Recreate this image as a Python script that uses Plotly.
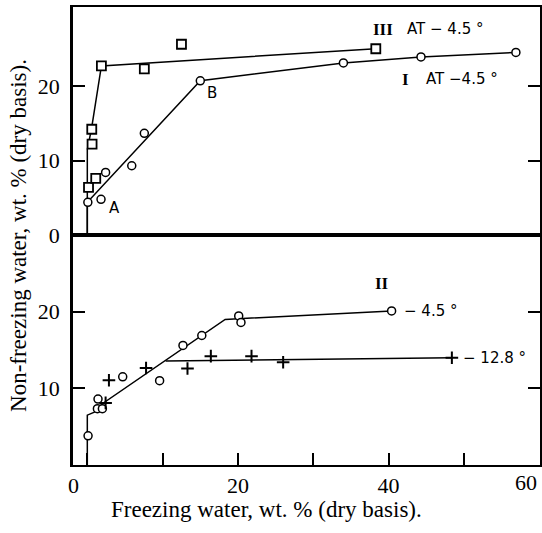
import plotly.graph_objects as go
from plotly.subplots import make_subplots

# --- upper panel: curves I and III (at -4.5 deg) ---
i_x = [0.07, 1.82, 2.43, 5.9, 7.57, 15.0, 34.0, 44.3, 56.9]
i_y = [4.4, 4.8, 8.4, 9.3, 13.65, 20.7, 23.1, 23.9, 24.5]
i_line_x = [0, 0, 15.0, 34.0, 44.3, 56.9]
i_line_y = [0, 4.4, 20.7, 23.1, 23.9, 24.5]

iii_x = [0.16, 1.12, 0.63, 0.59, 1.87, 7.57, 12.5, 38.3]
iii_y = [6.4, 7.6, 12.2, 14.2, 22.7, 22.3, 25.6, 25.0]
iii_line_x = [0, 0, 0.55, 1.87, 38.3]
iii_line_y = [0, 11.5, 14.2, 22.7, 25.0]

# --- lower panel: curve II at -4.5 and -12.8 deg ---
ii45_x = [0.1, 1.42, 1.34, 2.0, 4.7, 9.6, 12.7, 15.2, 20.1, 20.4, 40.4]
ii45_y = [3.8, 8.6, 7.35, 7.35, 11.5, 11.0, 15.6, 16.9, 19.45, 18.6, 20.1]
ii45_line_x = [0, 0, 1.4, 2.0, 18.3, 40.4]
ii45_line_y = [0, 6.5, 7.1, 8.0, 19.0, 20.1]

ii128_x = [2.43, 2.87, 7.8, 13.3, 16.4, 21.8, 26.0, 48.4]
ii128_y = [8.1, 11.05, 12.65, 12.6, 14.2, 14.2, 13.4, 14.0]
ii128_line_x = [10.4, 48.4]
ii128_line_y = [13.57, 14.0]

x_ticks = [0, 10, 20, 30, 40, 50]
# in the scan the "0" label sits a little left of its tick position
nb = "\u00a0"
x_ticktext = ["0" + nb * 5, "", "20", "", "40", ""]
x_last = 60  # labelled at the right frame

fig = make_subplots(rows=2, cols=1, shared_xaxes=True, vertical_spacing=0,
                    row_heights=[0.498, 0.502])

line_style = dict(color="black", width=1.5)
circle = dict(symbol="circle", size=8, color="white",
              line=dict(color="black", width=1.5))
square = dict(symbol="square", size=9, color="white",
              line=dict(color="black", width=1.8))
cross = dict(symbol="cross-thin", size=9, line=dict(color="black", width=2))

fig.add_trace(go.Scatter(x=i_line_x, y=i_line_y, mode="lines", line=line_style), 1, 1)
fig.add_trace(go.Scatter(x=iii_line_x, y=iii_line_y, mode="lines", line=line_style), 1, 1)
fig.add_trace(go.Scatter(x=i_x, y=i_y, mode="markers", marker=circle), 1, 1)
fig.add_trace(go.Scatter(x=iii_x, y=iii_y, mode="markers", marker=square), 1, 1)

fig.add_trace(go.Scatter(x=ii45_line_x, y=ii45_line_y, mode="lines", line=line_style), 2, 1)
fig.add_trace(go.Scatter(x=ii128_line_x, y=ii128_line_y, mode="lines", line=line_style), 2, 1)
fig.add_trace(go.Scatter(x=ii45_x, y=ii45_y, mode="markers", marker=circle), 2, 1)
fig.add_trace(go.Scatter(x=ii128_x, y=ii128_y, mode="markers", marker=cross), 2, 1)

serif = "Liberation Serif"
sans = "DejaVu Sans"

fig.update_xaxes(range=[-1.9, 60.1], showline=True, mirror=True, linecolor="black",
                 linewidth=2, showgrid=False, zeroline=False, automargin=False)
fig.update_xaxes(showticklabels=False, ticks="", row=1, col=1)
fig.update_xaxes(tickvals=x_ticks, ticktext=x_ticktext, ticks="inside", ticklen=12,
                 tickwidth=1.5, tickcolor="black",
                 tickfont=dict(family=serif, size=22, color="black"), row=2, col=1)

fig.update_yaxes(showline=True, mirror="ticks", linecolor="black", linewidth=2.5,
                 showgrid=False, zeroline=False, ticks="inside", ticklen=12,
                 tickwidth=1.5, tickcolor="black", automargin=False,
                 ticklabelstandoff=6,
                 tickfont=dict(family=serif, size=22, color="black"))
fig.update_yaxes(range=[0, 30.6], tickvals=[0, 10, 20], row=1, col=1)
fig.update_yaxes(range=[0, 30.0], tickvals=[10, 20], row=2, col=1)

# last x label sits against the right frame
fig.add_annotation(x=x_last, xref="x2", y=-0.039, yref="paper", text=str(x_last),
                   showarrow=False, xanchor="right", yanchor="middle",
                   font=dict(family=serif, size=22, color="black"))

labels = [
    dict(x=3.6, y=3.6, text="A", font=dict(family=sans, size=15), xref="x", yref="y"),
    dict(x=16.5, y=19.1, text="B", font=dict(family=sans, size=15), xref="x", yref="y"),
    dict(x=39.2, y=27.6, text="<b>III</b>", font=dict(family=serif, size=17), xref="x", yref="y"),
    dict(x=47.6, y=27.6, text="AT − 4.5 °", font=dict(family=sans, size=15), xref="x", yref="y"),
    dict(x=42.2, y=20.9, text="<b>I</b>", font=dict(family=serif, size=17), xref="x", yref="y"),
    dict(x=49.7, y=20.9, text="AT −4.5 °", font=dict(family=sans, size=15), xref="x", yref="y"),
    dict(x=39.1, y=23.7, text="<b>II</b>", font=dict(family=serif, size=17), xref="x2", yref="y2"),
    dict(x=45.6, y=20.1, text="− 4.5 °", font=dict(family=sans, size=15), xref="x2", yref="y2"),
    dict(x=54.1, y=13.9, text="− 12.8 °", font=dict(family=sans, size=15), xref="x2", yref="y2"),
]
for a in labels:
    a["font"]["color"] = "black"
    fig.add_annotation(showarrow=False, xanchor="center", yanchor="middle", **a)

fig.add_annotation(text="Non-freezing water, wt. % (dry basis).", xref="paper", yref="paper",
                   x=-0.118, y=0.502, textangle=-90, showarrow=False,
                   xanchor="center", yanchor="middle",
                   font=dict(family=serif, size=23, color="black"))
fig.add_annotation(text="Freezing water, wt. % (dry basis).", xref="paper", yref="paper",
                   x=0.415, y=-0.098, showarrow=False,
                   xanchor="center", yanchor="middle",
                   font=dict(family=serif, size=23, color="black"))

fig.update_layout(width=542, height=533, showlegend=False,
                  margin=dict(l=73, r=2, t=7, b=68),
                  plot_bgcolor="white", paper_bgcolor="white")

fig.write_html("out.html", config={"displayModeBar": False},
               post_script="document.body.style.margin='0';"
                           "document.body.style.overflow='hidden';")
